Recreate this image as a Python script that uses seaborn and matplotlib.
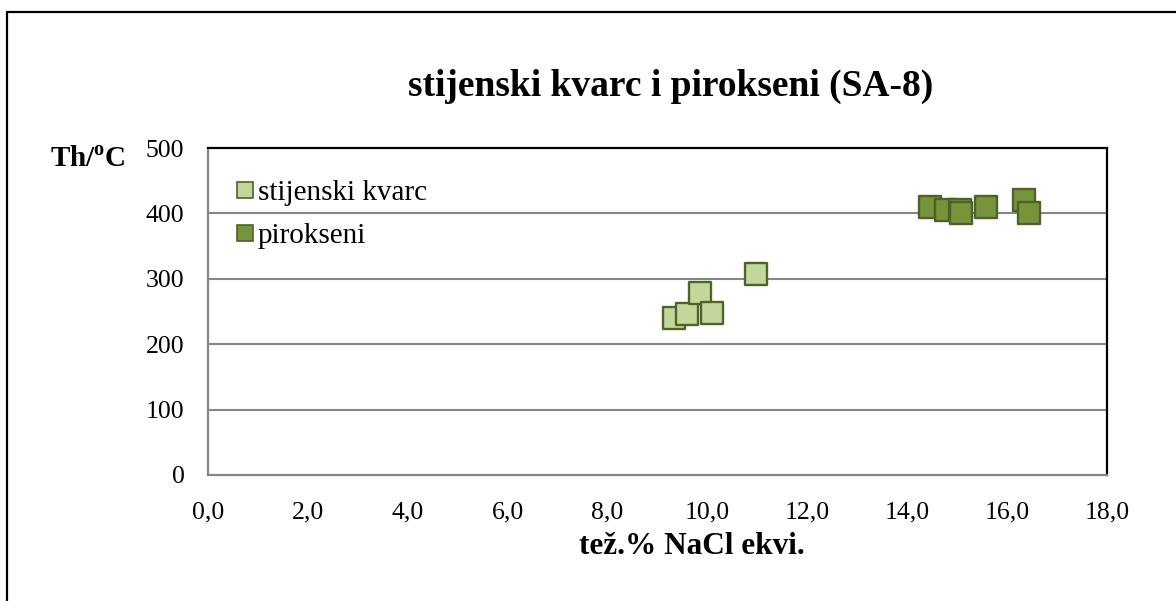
import matplotlib
matplotlib.use("Agg")
import matplotlib.pyplot as plt
import seaborn as sns
import pandas as pd
from matplotlib.lines import Line2D

# Homogenisation temperature vs. salinity of fluid inclusions
kvarc_salinity = [9.33, 9.59, 9.85, 10.10, 10.97]
kvarc_th = [240, 246, 278, 247, 307]
piroksen_salinity = [14.45, 14.77, 15.05, 15.08, 15.57, 16.34, 16.44]
piroksen_th = [410, 405, 405, 400, 410, 420, 400]

series_names = ["stijenski kvarc", "pirokseni"]
x_ticks = [0, 2, 4, 6, 8, 10, 12, 14, 16, 18]
x_tick_labels = ["0,0", "2,0", "4,0", "6,0", "8,0", "10,0", "12,0", "14,0", "16,0", "18,0"]
y_ticks = [0, 100, 200, 300, 400, 500]

df = pd.DataFrame({
    "salinity": kvarc_salinity + piroksen_salinity,
    "th": kvarc_th + piroksen_th,
    "group": [series_names[0]] * len(kvarc_salinity) + [series_names[1]] * len(piroksen_salinity),
})

sns.set_theme(style="white")
plt.rcParams["font.family"] = ["Liberation Serif", "DejaVu Serif"]
plt.rcParams["text.color"] = "black"
plt.rcParams["mathtext.fontset"] = "custom"
plt.rcParams["mathtext.bf"] = "Liberation Serif:bold"
plt.rcParams["mathtext.rm"] = "Liberation Serif"

fill_colors = {series_names[0]: "#c3d69b", series_names[1]: "#77933c"}
edge_color = "#4f6228"
grid_color = "#868686"

fig = plt.figure(figsize=(11.76, 6.01), dpi=100)
ax = fig.add_axes([0.1769, 0.2097, 0.9413 - 0.1769, 0.7537 - 0.2097])

for yv in y_ticks[1:-1]:
    ax.axhline(yv, color=grid_color, lw=1.5, zorder=0)

sns.scatterplot(
    data=df, x="salinity", y="th", hue="group", palette=fill_colors,
    marker="s", s=250, edgecolor=edge_color, linewidth=1.7, ax=ax,
    legend=False, zorder=3,
)

ax.set_xlim(0, 18)
ax.set_ylim(0, 500)
ax.set_xticks(x_ticks)
ax.set_xticklabels(x_tick_labels)
ax.set_yticks(y_ticks)
ax.tick_params(axis="both", labelsize=18.5, labelcolor="black", length=7,
               width=1.3, direction="out")
ax.tick_params(axis="x", color=grid_color, pad=12)
ax.tick_params(axis="y", color=grid_color, pad=10)

for side in ["left", "bottom"]:
    ax.spines[side].set_color(grid_color)
    ax.spines[side].set_linewidth(1.6)
for side in ["top", "right"]:
    ax.spines[side].set_color("black")
    ax.spines[side].set_linewidth(1.6)

ax.set_xlabel("")
ax.set_ylabel("")

handles = [
    Line2D([0], [0], marker="s", linestyle="none", markersize=11.5,
           markerfacecolor=fill_colors[n], markeredgecolor=edge_color,
           markeredgewidth=1.2)
    for n in series_names
]
leg = ax.legend(handles, series_names, loc="upper left", bbox_to_anchor=(0.028, 0.903),
                frameon=False, fontsize=21, handletextpad=0.05, labelspacing=0.56,
                handlelength=0.8, borderaxespad=0.0, borderpad=0.0)
for t in leg.get_texts():
    t.set_color("black")

fig.text(0.57, 0.856, "stijenski kvarc i pirokseni (SA-8)", ha="center",
         va="center", fontsize=27, fontweight="bold", color="black")
fig.text(0.588, 0.09, "tež.% NaCl ekvi.", ha="center", va="center",
         fontsize=22.5, fontweight="bold", color="black")
fig.text(0.0425, 0.735, r"Th/$^{\mathbf{o}}$C", ha="left", va="center",
         fontsize=21, fontweight="bold", color="black")

# Outer frame (top and left edges)
fig.add_artist(Line2D([0.006, 0.006], [0.0, 0.98], transform=fig.transFigure,
                      color="black", lw=1.6))
fig.add_artist(Line2D([0.006, 1.0], [0.98, 0.98], transform=fig.transFigure,
                      color="black", lw=1.6))

fig.savefig("out.png", dpi=100)
